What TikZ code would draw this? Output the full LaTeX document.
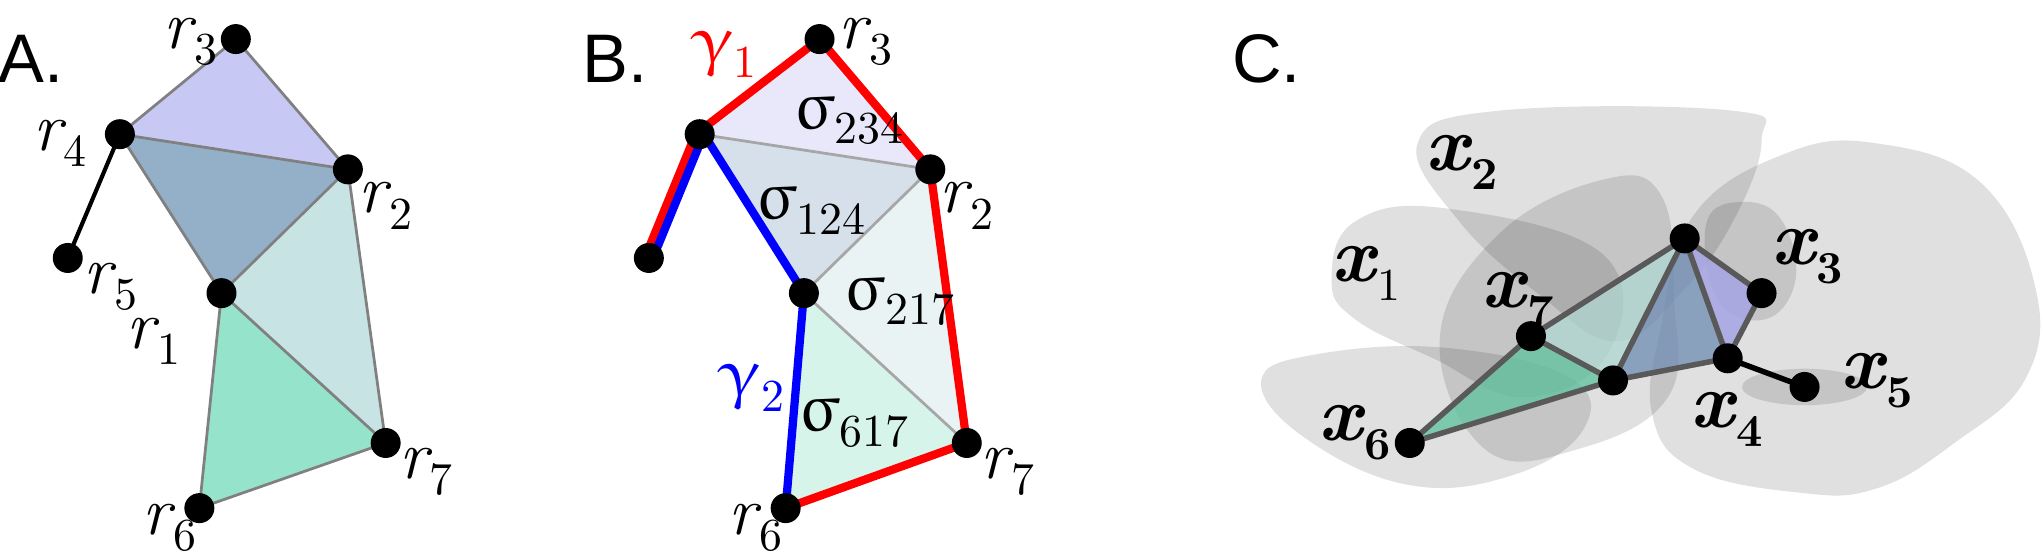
\documentclass[tikz,border=0pt]{standalone}
\usepackage{fontspec}
\usepackage{upgreek}
\newfontfamily\arial{Liberation Sans}
\newcommand{\sbs}[1]{\kern0.5pt\raisebox{-0.55ex}{\fontsize{10}{12}\selectfont\upshape #1}}
\newcommand{\gsb}[1]{\raisebox{-0.5ex}{\fontsize{10}{12}\selectfont\upshape #1}}
\begin{document}
\begin{tikzpicture}[x=0.01cm,y=-0.01cm,
  dot/.style={circle,fill=black,inner sep=0pt,minimum size=0.23cm},
  lbl/.style={font=\fontsize{15}{17}\selectfont\itshape,inner sep=0pt},
  xl/.style={font=\fontsize{17}{19}\selectfont\bfseries\itshape,inner sep=0pt},
  sg/.style={font=\fontsize{15}{17}\selectfont,inner sep=0pt},
  pan/.style={font=\arial\fontsize{15}{18}\selectfont,inner sep=0pt},
  tri/.style={draw=gray,line width=0.6pt},
  ctri/.style={draw=black!65,line width=1.2pt},
  blob/.style={fill=black,fill opacity=0.12}]
\useasboundingbox (0,0) rectangle (1568,428);
% ---------- A
\node[pan] (pa) at (24,45) {A.};
\coordinate (a3) at (181,30); \coordinate (a4) at (92,103); \coordinate (a2) at (267,130);
\coordinate (a5) at (52,198); \coordinate (a1) at (170,225); \coordinate (a7) at (296,340);
\coordinate (a6) at (153,390);
\fill[fill={rgb,255:red,200;green,200;blue,245}] (a3)--(a4)--(a2)--cycle;
\fill[fill={rgb,255:red,148;green,175;blue,200}] (a4)--(a2)--(a1)--cycle;
\fill[fill={rgb,255:red,200;green,227;blue,227}] (a1)--(a2)--(a7)--cycle;
\fill[fill={rgb,255:red,150;green,227;blue,203}] (a1)--(a7)--(a6)--cycle;
\draw[tri] (a3)--(a4)--(a2)--cycle (a4)--(a1)--(a2)--(a7)--(a6)--(a1)--(a7);
\draw[line width=0.9pt] (a4)--(a5);
\foreach \n in {a1,a2,a3,a4,a5,a6,a7} \node[dot] (d\n) at (\n) {};
\node[lbl] (la3) at (146,32) {r\sbs{3}};
\node[lbl] (la4) at (46,110) {r\sbs{4}};
\node[lbl] (la2) at (296,158) {r\sbs{2}};
\node[lbl] (la5) at (85,220) {r\sbs{5}};
\node[lbl] (la1) at (118,262) {r\sbs{1}};
\node[lbl] (la7) at (327,362) {r\sbs{7}};
\node[lbl] (la6) at (130,405) {r\sbs{6}};
% ---------- B
\node[pan] (pb) at (472,45) {B.};
\coordinate (b3) at (629,30); \coordinate (b4) at (537,103); \coordinate (b2) at (714,130);
\coordinate (b5) at (498,198); \coordinate (b1) at (617,225); \coordinate (b7) at (742,340);
\coordinate (b6) at (603,390);
\fill[fill={rgb,255:red,232;green,232;blue,250}] (b3)--(b4)--(b2)--cycle;
\fill[fill={rgb,255:red,214;green,224;blue,234}] (b4)--(b2)--(b1)--cycle;
\fill[fill={rgb,255:red,233;green,243;blue,243}] (b1)--(b2)--(b7)--cycle;
\fill[fill={rgb,255:red,214;green,244;blue,234}] (b1)--(b7)--(b6)--cycle;
\draw[draw=black!35,line width=0.6pt] (b4)--(b2)--(b1) (b1)--(b7);
\draw[red,line width=1.8pt,line join=round] ([xshift=-0.9pt]b5)--([xshift=-0.9pt]b4)--(b3)--(b2)--(b7)--(b6);
\draw[blue,line width=1.8pt,line join=round] ([xshift=0.9pt]b5)--([xshift=0.9pt]b4)--(b1)--(b6);
\foreach \n in {b1,b2,b3,b4,b5,b6,b7} \node[dot] (d\n) at (\n) {};
\node[lbl] (lb3) at (664,32) {r\sbs{3}};
\node[lbl] (lb2) at (742,158) {r\sbs{2}};
\node[lbl] (lb7) at (773,362) {r\sbs{7}};
\node[lbl] (lb6) at (580,405) {r\sbs{6}};
\node[sg,red] (g1) at (556,42) {$\upgamma$\gsb{1}};
\node[sg,blue] (g2) at (577,298) {$\upgamma$\gsb{2}};
\node[sg] (s1) at (651,93) {$\upsigma$\gsb{234}};
\node[sg] (s2) at (622,162) {$\upsigma$\gsb{124}};
\node[sg] (s3) at (690,232) {$\upsigma$\gsb{217}};
\node[sg] (s4) at (655,325) {$\upsigma$\gsb{617}};
% ---------- C
\node[pan] (pc) at (972,45) {C.};
\fill[blob] plot[smooth cycle,tension=0.7] coordinates {(1088,110) (1150,85) (1330,85) (1352,108) (1330,170) (1290,225) (1240,262) (1180,225) (1120,170)};
\fill[blob] plot[smooth cycle,tension=0.7] coordinates {(1022,215) (1040,170) (1110,160) (1230,195) (1235,270) (1170,305) (1100,275) (1040,245)};
\fill[blob] plot[smooth cycle,tension=0.7] coordinates {(968,292) (1010,272) (1110,267) (1205,290) (1215,330) (1160,365) (1080,372) (1000,335)};
\fill[blob] plot[smooth cycle,tension=0.7] coordinates {(1105,260) (1150,180) (1230,138) (1275,150) (1285,230) (1280,305) (1210,345) (1140,345)};
\fill[blob] plot[smooth cycle,tension=0.7] coordinates {(1300,165) (1370,118) (1440,110) (1520,140) (1562,220) (1555,290) (1500,340) (1440,375) (1380,378) (1300,360) (1268,318) (1275,250)};
\fill[blob] plot[smooth cycle,tension=0.7] coordinates {(1310,170) (1340,155) (1368,170) (1378,215) (1355,245) (1318,230)};
\fill[blob] (1385,297) ellipse (48 and 14);
\coordinate (c6) at (1082,340); \coordinate (c7) at (1175,258); \coordinate (ct) at (1293,183);
\coordinate (c3) at (1352,225); \coordinate (c4) at (1326,275); \coordinate (cm) at (1238,292);
\coordinate (c5) at (1385,297);
\fill[fill={rgb,255:red,100;green,195;blue,160},fill opacity=0.8] (c6)--(c7)--(cm)--cycle;
\fill[fill={rgb,255:red,175;green,215;blue,210},fill opacity=0.75] (c7)--(ct)--(cm)--cycle;
\fill[fill={rgb,255:red,110;green,140;blue,180},fill opacity=0.75] (ct)--(c4)--(cm)--cycle;
\fill[fill={rgb,255:red,165;green,165;blue,230},fill opacity=0.85] (ct)--(c3)--(c4)--cycle;
\draw[ctri,line join=round] (c6)--(c7)--(ct)--(c3)--(c4)--(cm)--cycle (c7)--(cm)--(ct)--(c4);
\draw[line width=1.2pt] (c4)--(c5);
\foreach \n in {c3,c4,c5,c6,c7,ct,cm} \node[dot] (d\n) at (\n) {};
\node[xl] (lx2) at (1122,125) {x\sbs{\textbf{2}}};
\node[xl] (lx1) at (1048,210) {x\sbs{\mdseries 1}};
\node[xl] (lx7) at (1165,230) {x\sbs{\textbf{7}}};
\node[xl] (lx3) at (1387,197) {x\sbs{\textbf{3}}};
\node[xl] (lx5) at (1440,292) {x\sbs{\textbf{5}}};
\node[xl] (lx4) at (1325,322) {x\sbs{\textbf{4}}};
\node[xl] (lx6) at (1040,332) {x\sbs{\textbf{6}}};
\end{tikzpicture}
\end{document}
